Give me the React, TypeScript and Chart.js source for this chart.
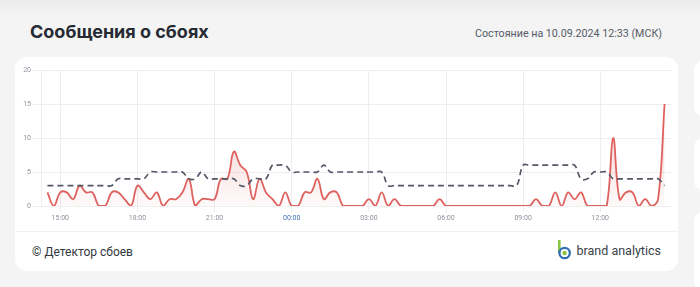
import React, { useEffect, useRef } from "react";
import { Chart, registerables } from "chart.js";
Chart.register(...registerables);

const times = [
  "14:30","14:45",
  "15:00","15:15","15:30","15:45","16:00","16:15","16:30","16:45",
  "17:00","17:15","17:30","17:45","18:00","18:15","18:30","18:45",
  "19:00","19:15","19:30","19:45","20:00","20:15","20:30","20:45",
  "21:00","21:15","21:30","21:45","22:00","22:15","22:30","22:45",
  "23:00","23:15","23:30","23:45",
  "00:00","00:15","00:30","00:45","01:00","01:15","01:30","01:45",
  "02:00","02:15","02:30","02:45","03:00","03:15","03:30","03:45",
  "04:00","04:15","04:30","04:45","05:00","05:15","05:30","05:45",
  "06:00","06:15","06:30","06:45","07:00","07:15","07:30","07:45",
  "08:00","08:15","08:30","08:45","09:00","09:15","09:30","09:45",
  "10:00","10:15","10:30","10:45","11:00","11:15","11:30","11:45",
  "12:00","12:15","12:30","12:45","13:00","13:15","13:30","13:45",
  "14:00","14:15","14:30",
];

const failures = [
  2, 0, 2, 2, 1, 3, 2, 2, 0, 0,
  2, 2, 1, 0, 3, 2, 1, 2, 0, 1,
  1, 2, 4, 0, 1, 1, 1, 4, 4, 8,
  6, 5, 1, 4, 2, 1, 0, 2, 0, 0,
  2, 2, 4, 1, 2, 2, 0, 0, 0, 0,
  1, 0, 2, 0, 1, 0, 0, 0, 0, 0,
  0, 1, 0, 0, 0, 0, 0, 0, 0, 0,
  0, 0, 0, 0, 0, 0, 1, 0, 0, 2,
  0, 2, 1, 2, 0, 0, 0, 0, 10, 1,
  2, 2, 0, 1, 0, 1, 15,
];

const norm = [
  3, 3, 3, 3, 3, 3, 3, 3, 3, 3,
  3, 4, 4, 4, 4, 4, 5, 5, 5, 5,
  5, 5, 4, 4, 5, 4, 4, 4, 4, 4,
  3, 3, 4, 4, 4, 6, 6, 6, 5, 5,
  5, 5, 5, 6, 5, 5, 5, 5, 5, 5,
  5, 5, 5, 3, 3, 3, 3, 3, 3, 3,
  3, 3, 3, 3, 3, 3, 3, 3, 3, 3,
  3, 3, 3, 3, 6, 6, 6, 6, 6, 6,
  6, 6, 6, 4, 4, 5, 5, 5, 4, 4,
  4, 4, 4, 4, 4, 4, 3,
];

const xTickLabels = ["15:00", "18:00", "21:00", "00:00", "03:00", "06:00", "09:00", "12:00"];
const yTickValues = [0, 5, 10, 15, 20];

function toHours(labels: string[]): number[] {
  let day = 0;
  let prev = -1;
  return labels.map((l) => {
    const [h, m] = l.split(":").map(Number);
    let v = h + m / 60 + day * 24;
    if (v < prev) {
      day += 1;
      v += 24;
    }
    prev = v;
    return v;
  });
}

const RED = "rgb(222, 98, 95)";
const DASH = "#525866";
const GRID = "#eeeeee";
const TICK = "#8d929b";
const TICK_BLUE = "#3f74b8";

function FailureChart() {
  const ref = useRef<HTMLCanvasElement | null>(null);
  useEffect(() => {
    if (!ref.current) return;
    const xs = toHours(times);
    const tickXs = toHours(xTickLabels);
    const chart = new Chart(ref.current, {
      type: "line",
      data: {
        datasets: [
          {
            label: "Норма",
            data: xs.map((x, i) => ({ x, y: norm[i] })),
            borderColor: DASH,
            borderWidth: 1.7,
            borderDash: [6, 4],
            pointRadius: 0,
            tension: 0.4,
            fill: false,
          },
          {
            label: "Сбои",
            data: xs.map((x, i) => ({ x, y: failures[i] })),
            borderColor: RED,
            borderWidth: 1.8,
            pointRadius: 0,
            tension: 0.4,
            fill: "origin",
            backgroundColor: (ctx: any) => {
              const { chart } = ctx;
              const area = chart.chartArea;
              if (!area) return "rgba(222,98,95,0.1)";
              const g = chart.ctx.createLinearGradient(0, area.top, 0, area.bottom);
              g.addColorStop(0, "rgba(222,98,95,0.42)");
              g.addColorStop(1, "rgba(222,98,95,0.03)");
              return g;
            },
          },
        ],
      },
      options: {
        animation: false,
        responsive: false,
        maintainAspectRatio: false,
        layout: { padding: { top: 13, right: 7, left: 0, bottom: 0 } },
        plugins: { legend: { display: false }, tooltip: { enabled: false } },
        scales: {
          x: {
            type: "linear",
            min: 14.25,
            max: 38.75,
            afterBuildTicks: (s: any) => {
              s.ticks = tickXs.map((v) => ({ value: v }));
            },
            afterFit: (s: any) => {
              s.height = 25;
            },
            ticks: {
              autoSkip: false,
              maxRotation: 0,
              padding: 2,
              font: { family: "Roboto", size: 7 },
              color: (ctx: any) => (xTickLabels[ctx.index] === "00:00" ? TICK_BLUE : TICK),
              callback: (_v: any, i: number) => xTickLabels[i],
            },
            grid: { color: GRID, tickLength: 6, drawTicks: true },
            border: { display: false },
          },
          y: {
            min: 0,
            max: 20,
            afterBuildTicks: (s: any) => {
              s.ticks = yTickValues.map((v) => ({ value: v }));
            },
            afterFit: (s: any) => {
              s.width = 26;
            },
            ticks: {
              padding: 2,
              font: { family: "Roboto", size: 7 },
              color: TICK,
            },
            grid: { color: GRID, tickLength: 8, drawTicks: true },
            border: { display: true, color: GRID },
          },
        },
      },
    });
    return () => chart.destroy();
  }, []);
  return <canvas ref={ref} width={663} height={174} style={{ width: 663, height: 174, display: "block" }} />;
}

export default function App() {
  useEffect(() => {
    document.body.style.margin = "0";
  }, []);
  return (
    <div
      style={{
        position: "fixed",
        left: 0,
        top: 0,
        width: 700,
        height: 287,
        overflow: "hidden",
        background: "linear-gradient(#ebebeb 0px, #f4f4f4 14px, #f4f4f4 100%)",
        fontFamily: "Roboto, sans-serif",
      }}
    >
      <div
        style={{
          position: "absolute",
          left: 30,
          top: 21,
          fontFamily: "Inter, sans-serif",
          fontWeight: 700,
          fontSize: 18,
          color: "#262a33",
          whiteSpace: "nowrap",
        }}
      >
        Сообщения о сбоях
      </div>
      <div
        style={{
          position: "absolute",
          right: 38,
          top: 27,
          fontSize: 10.7,
          color: "#555b66",
          whiteSpace: "nowrap",
        }}
      >
        Состояние на 10.09.2024 12:33 (МСК)
      </div>

      <div
        style={{
          position: "absolute",
          left: 15,
          top: 57,
          width: 663,
          height: 214,
          background: "#ffffff",
          borderRadius: 12,
          overflow: "hidden",
        }}
      >
        <FailureChart />
        <div style={{ position: "absolute", left: 0, right: 0, top: 174, height: 1, background: "#f0f0f0" }} />
        <div
          style={{
            position: "absolute",
            left: 17,
            top: 188,
            fontSize: 12,
            color: "#333840",
            whiteSpace: "nowrap",
          }}
        >
          © Детектор сбоев
        </div>
        <div
          style={{
            position: "absolute",
            right: 17,
            top: 183,
            display: "flex",
            alignItems: "center",
            whiteSpace: "nowrap",
          }}
        >
          <svg width="15" height="20" viewBox="0 0 15 20" style={{ marginRight: 5 }}>
            <rect x="1" y="0" width="2.6" height="13" fill="#8cc63f" />
            <circle cx="7.6" cy="13" r="5.2" fill="none" stroke="#2f6db5" strokeWidth="2.2" />
            <circle cx="7.6" cy="13" r="2.2" fill="#8cc63f" />
          </svg>
          <span style={{ fontSize: 12.5, color: "#3a3f47" }}>brand analytics</span>
        </div>
      </div>

      <div style={{ position: "absolute", left: 694, top: 60, width: 30, height: 57, background: "#fff", borderRadius: 10 }} />
      <div style={{ position: "absolute", left: 694, top: 137, width: 30, height: 54, background: "#fff", borderRadius: 10 }} />
      <div style={{ position: "absolute", left: 694, top: 211, width: 30, height: 80, background: "#fff", borderRadius: 10 }} />
    </div>
  );
}
